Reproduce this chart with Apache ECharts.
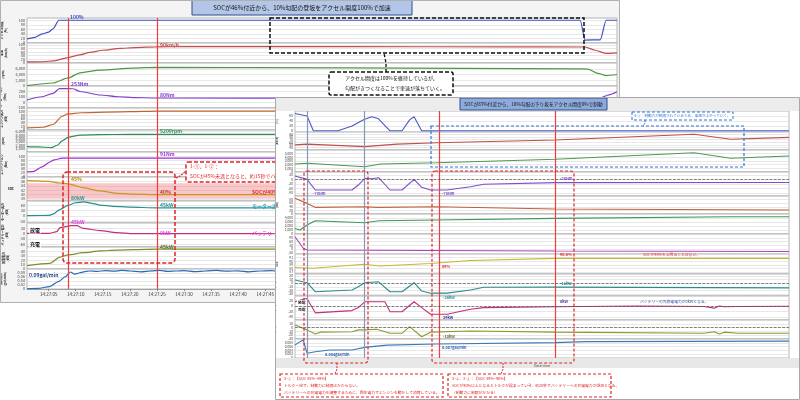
<!DOCTYPE html>
<html><head><meta charset="utf-8">
<script src="https://cdn.jsdelivr.net/npm/echarts@6/dist/echarts.min.js"></script>
<style>
html,body{margin:0;padding:0;background:#fff;}
body{width:800px;height:400px;position:relative;overflow:hidden;}
#chartA{position:absolute;left:0;top:0;width:620px;height:303px;background:#f4f4f4;}
#chartB{position:absolute;left:275px;top:97px;width:525px;height:303px;background:#fff;}
</style></head><body>
<div id="chartA"></div><div id="chartB"></div>
<script>
// ===== Panel A data (seconds after 14:27:00) =====
const A_X_LABELS = [5,10,15,20,25,30,35,40,45,50,55,60,65,70,75,80,85,90,95,100,105];
const A_VLINES = [8.6, 25];
const A_ACCEL = [[1,18],[2.5,25],[3.8,40],[5,48],[5.8,62],[6.9,100],[103.2,100],[104.1,13],[106.9,14],[108,100],[110,100]];
const A_SPEED = [[1,6],[4,7],[6,12],[8.6,30],[10.8,45],[12.6,58],[15,70],[18.2,80],[21,85],[24.8,89],[30,90],[60,90],[90,89],[104.1,88],[106,70],[108,53],[110,56]];
const A_MREV = [[1,100],[5.8,1050],[8.6,2800],[10.8,4600],[14.5,5550],[20.6,6250],[24.8,6500],[60,6300],[103,5950],[104.6,5900],[106.5,4400],[108,3600],[110,4000]];
const A_MTQ = [[1,45],[3.8,105],[5.8,167],[7,253],[9.5,250],[10.8,200],[14.5,136],[18,105],[20.6,90],[24.8,82],[60,80],[104,80],[107,85],[108.5,140],[110,196]];
const A_EOUT = [[1,12],[4,15],[5.8,30],[7.5,75],[8.6,88],[11,94],[20,100],[25,103],[60,104],[110,104]];
const A_EREV = [[1,1600],[3,1500],[5.5,1300],[6.6,2000],[7.5,3300],[8.6,4350],[10.8,5000],[14,5150],[20,5200],[110,5200]];
const A_ETQ = [[1,25],[2.1,26],[3.8,49],[5.3,73],[6,82],[7.5,91],[110,91]];
const A_SOC = [[1,46.5],[5,46.2],[7,45.4],[8.6,45],[11.4,43.2],[14.5,41.7],[17.7,40.6],[20.6,40.2],[25,40],[110,40]];
const A_SOC_BAND = [38, 45.3];
const A_MOUT = [[1,2],[5,3],[5.8,10],[7,35],[8.6,60],[10,75],[11.5,80],[13,72],[14.5,62],[17,55],[20,50],[25,46],[110,45]];
const A_BATT = [[1,2],[5.2,2],[6.5,11],[7.1,34],[9.3,45],[10.2,45],[11.4,30],[14.5,17],[17.6,6],[20.6,0],[110,0]];
const A_GEN = [[1,7.5],[5.2,13],[7.1,27],[8.6,32],[11.4,37],[14.5,41],[17.6,43],[20.6,44],[25,45],[110,45]];
const A_FUEL = [[1,0.001],[3,0.003],[5.2,0.012],[6.8,0.037],[8.1,0.062],[9,0.085],[9.8,0.074],[10.6,0.08],[11.5,0.086],[12.5,0.09],[14,0.088],[15.5,0.092],[17,0.089],[18.5,0.093],[20,0.09],[22,0.086],[24,0.091],[25.5,0.093],[27,0.088],[28.5,0.09],[30,0.092],[32,0.087],[34,0.09],[36,0.093],[38,0.089],[40,0.091],[42,0.086],[44,0.09],[46,0.092],[48,0.088],[55,0.09],[65,0.089],[75,0.091],[85,0.09],[95,0.088],[105,0.09],[110,0.09]];

// ===== Panel B data (seconds after 14:03:00) =====
const B_X_LABELS = [45,50,55,60,65,70,75,80,85,90,95,100,105,110,115,120];
const B_VLINES_GRAY = [44.9, 53.9];
const B_VLINES_RED = [65.8, 84.1];
const B_ACCEL = [[43,70],[44.9,60],[45.9,0],[49.8,0],[52,19],[53.9,46],[55.1,57],[56.1,50],[58,0],[59.9,0],[61.1,44],[61.8,57],[63,0],[121,0]];
const B_SPEED = [[43,50],[44.9,53],[54,43],[59.1,53],[65.4,58],[84.1,69],[106,91],[111.8,72],[121,79]];
const B_MREV = [[43,2180],[44.9,2370],[54,1450],[56.5,2180],[65.4,2540],[84.1,3460],[106,5260],[111.8,3740],[121,4360]];
const B_MTQ = [[43,23],[44.9,1],[46.2,-70],[52,-70],[53,-37],[54,8],[55.1,5],[56.2,12],[58,-70],[59.9,-70],[61.8,1],[63,-52],[64.4,-70],[67,-70],[70.7,-48],[72.8,-32],[84.1,-21],[121,-20]];
const B_EOUT = [[43,87],[44.9,59],[46.2,37],[54,40],[56,37],[65.4,40],[84.1,28],[121,22]];
const B_EREV = [[43,1400],[43.8,1000],[44.9,2250],[46.2,3300],[54,2800],[56.2,3300],[65.4,3500],[84.1,3900],[111.8,4300],[121,4300]];
const B_ETQ = [[43,98],[44.3,6],[44.9,-8],[84,-16],[121,-20]];
const B_SOC = [[43,88.3],[45.8,88.1],[53.9,89.2],[56.4,88.7],[64.4,89.4],[70.7,90.2],[84.1,90.8],[121,90.8]];
const B_MOUT = [[43,9],[44.9,1.5],[46.2,-24],[52,-19],[53,-10],[54,1.5],[56.2,4],[58,-24],[59.9,-24],[61.8,1.5],[63,-22],[64.4,-28],[67,-28],[70.7,-19],[72.8,-11.4],[84.1,-11],[121,-13]];
const B_BATT = [[43,16],[44.3,25],[44.9,28],[46.2,-24],[52,-16],[53,-5],[54,16],[57.2,16],[58,-20],[59.9,-20],[61.8,16],[63,-5],[64.4,-29],[67,-29],[70.7,-11],[72.8,-5],[84.1,-2],[97,0.5],[107.6,-1],[109.2,-7],[110,1],[110.8,-2],[112.9,-1],[121,0]];
const B_GEN = [[43,7],[44.9,-6],[46.2,-17],[47,-12],[52,-11],[53,-6],[54,-6],[55.9,-4.5],[58,-15],[59.9,-15],[61.1,2.4],[63,-24],[64.4,-12],[70.7,-9],[84.1,-12],[107.6,-15],[109.2,-11],[110,-17],[110.8,-12],[112.9,-15],[121,-15]];
const B_FUEL = [[43,0.0068],[43.8,0.0086],[44.3,0.0095],[44.9,0.0025],[46.2,0.0033],[48.5,0.0042],[52,0.0042],[54,0.0056],[57.5,0.0068],[65.4,0.0074],[84.1,0.0081],[89,0.0086],[121,0.0089]];

const FONT = '"Noto Sans CJK JP", "Noto Sans", sans-serif';
function pad(n){return (n<10?'0':'')+n;}
function timeFmt(baseMin){return function(v){const tot=baseMin*60+Math.round(v);return '14:'+pad(Math.floor(tot/60))+':'+pad(tot%60);};}

function buildPanel(cfg){
  const grid=[],xAxis=[],yAxis=[],series=[];
  cfg.rows.forEach(function(r,i){
    const last = i===cfg.rows.length-1;
    grid.push({left:cfg.left,width:cfg.width,top:r.top,height:r.h,show:true,backgroundColor:'#fff',borderColor:'#9a9a9a',borderWidth:0.7,containLabel:false,outerBoundsMode:'none'});
    xAxis.push({gridIndex:i,type:'value',min:cfg.xMin,max:cfg.xMax,splitLine:{show:false},
      axisTick:{show:last,length:2,customValues:cfg.xLabels,lineStyle:{color:'#888'}},
      axisLine:{show:last,lineStyle:{color:'#888',width:0.7}},
      axisLabel:{show:last,customValues:cfg.xLabels,formatter:cfg.fmt,fontSize:cfg.xFont,color:'#333',margin:3,fontFamily:FONT}});
    yAxis.push({gridIndex:i,type:'value',min:r.min,max:r.max,splitNumber:r.split||5,name:r.name,nameLocation:'middle',
      nameRotate:(r.rot===undefined?90:r.rot),nameGap:cfg.nameGap,
      nameTextStyle:{fontSize:cfg.nameFont,fontWeight:'bold',color:'#222',lineHeight:cfg.nameFont+1,fontFamily:FONT},
      axisLine:{show:false},axisTick:{show:false},
      axisLabel:{fontSize:cfg.tickFont,color:'#444',margin:2,showMaxLabel:false,fontFamily:FONT},
      splitLine:{lineStyle:{color:'#d8d8d8',width:0.6}}});
    const ml = cfg.vlines.map(function(v){return {xAxis:v[0],lineStyle:{color:v[1],width:1.2,type:'solid',opacity:1}};});
    if (r.zero) ml.push({yAxis:0,lineStyle:{color:'#555',width:0.7,type:'dashed'}});
    const s={type:'line',xAxisIndex:i,yAxisIndex:i,data:r.data,showSymbol:false,symbol:'none',
      lineStyle:{color:r.color,width:cfg.lw},itemStyle:{color:r.color},smooth:cfg.smooth,smoothMonotone:'x',z:3,
      markLine:{silent:true,symbol:['none','none'],label:{show:false},data:ml,animation:false}};
    if (r.band) s.markArea={silent:true,itemStyle:{color:'rgba(240,130,135,0.45)'},data:[[{yAxis:r.band[0]},{yAxis:r.band[1]}]]};
    series.push(s);
  });
  return {grid:grid,xAxis:xAxis,yAxis:yAxis,series:series};
}

function txt(x,y,text,color,size,o){o=o||{};return {type:'text',x:x,y:y,z:50,style:{text:text,fill:color,
  font:(o.bold?'bold ':'')+size+'px '+FONT,textAlign:o.align||'left',align:o.align||'left',textVerticalAlign:'middle',verticalAlign:'middle',
  lineHeight:o.lh||size+2,backgroundColor:o.bg,padding:o.bg?[0,1]:0}};}
function rect(x,y,w,h,stroke,fill,o){o=o||{};return {type:'rect',z:o.z||40,shape:{x:x,y:y,width:w,height:h,r:o.r||0},
  style:{fill:fill||'none',stroke:stroke,lineWidth:o.lw||1,lineDash:o.dash||null}};}
function pline(pts,stroke,o){o=o||{};return {type:'polyline',z:41,shape:{points:pts},style:{fill:'none',stroke:stroke,lineWidth:o.lw||1,lineDash:o.dash||null}};}

// ===== Chart A =====
const RED='#f03c3c';
const aRows=[
 {name:'アクセル開度\n(%)',top:18,h:25,min:0,max:110,color:'#3f4fc0',data:A_ACCEL},
 {name:'車速\n(km/h)',top:43,h:20,min:0,max:110,color:'#c0504d',data:A_SPEED},
 {name:'モーター回転数\n(rpm)',top:63,h:23,min:0,max:8000,color:'#4c9a45',data:A_MREV},
 {name:'モータートルク\n(Nm)',top:86,h:22,min:-100,max:300,color:'#8040c8',data:A_MTQ},
 {name:'エンジン出力\n(kW)',top:108,h:22,min:0,max:120,color:'#c0662f',data:A_EOUT},
 {name:'エンジン回転数\n(rpm)',top:130,h:22,min:0,max:6500,color:'#2f8f5a',data:A_EREV},
 {name:'エンジントルク\n(Nm)',top:152,h:25,min:0,max:120,color:'#9b30d0',data:A_ETQ},
 {name:'SOC',rot:0,top:177,h:24,min:37,max:48.2,color:'#c8961e',data:A_SOC,band:A_SOC_BAND},
 {name:'モーター出力\n(kW)',top:201,h:22,min:-40,max:85,color:'#2a8f8f',data:A_MOUT},
 {name:'バッテリー電力\n(kW)',top:223,h:24,min:-75,max:60,color:'#c4307c',data:A_BATT},
 {name:'発電電力\n(kW)',top:247,h:22,min:0,max:50,color:'#7d8f2a',data:A_GEN},
 {name:'燃料消費\n(gal/min)',top:269,h:20,min:0,max:0.1,color:'#2a6cb4',data:A_FUEL}
];
const pa=buildPanel({rows:aRows,left:27,width:590,xMin:1,xMax:110,xLabels:A_X_LABELS,fmt:timeFmt(27),
  vlines:A_VLINES.map(function(v){return [v,RED];}),nameGap:13,nameFont:3,tickFont:3.8,xFont:4.5,lw:1.2,smooth:0.25});
const chartA=echarts.init(document.getElementById('chartA'),null,{renderer:'canvas'});
pa.animation=false;
pa.graphic={elements:[
 rect(0.5,0.5,619,302,'#b0b0b0','none',{z:60}),
 rect(192,0.5,220,14.5,'#2f4f8f','#b4c6e7',{lw:1}),
 txt(302,8,'SOCが46%付近から、10%勾配の登坂をアクセル開度100%で加速','#111',6,{align:'center'}),
 rect(270,18,314,35,'#111','none',{dash:[4,2],lw:1.5}),
 pline([[386,72],[386,63],[384,53]],'#111',{dash:[3,2],lw:1.3}),
 rect(329,72,124,23,'#111','#fff',{dash:[4,2],lw:1.5,r:2}),
 txt(345,78.5,'アクセル開度は100%を維持しているが、','#111',5),
 txt(345,88.5,'勾配がきつくなることで車速が落ちていく。','#111',5),
 rect(63,172,112,91,'#e02424','none',{dash:[4,2],lw:1.5,r:4}),
 pline([[176,178],[180,176],[186,171]],'#e02424',{dash:[2,1],lw:1.2}),
 rect(186,162,130,20,'#e02424','#fff',{dash:[4,2],lw:1.5,r:2}),
 txt(190,166.5,'1-①、1-②：','#e02424',5),
 txt(190,176.5,'SOCが45%未満となると、約15秒でバッテリーの放電電力が0kWとなる。','#e02424',5),
 txt(70,17,'100%','#3f4fc0',5,{bold:true}),
 txt(160,45,'90km/h','#c0504d',5,{bold:true}),
 txt(71,84,'253Nm','#8040c8',5,{bold:true}),
 txt(160,95,'80Nm','#8040c8',5,{bold:true}),
 txt(160,131,'5200rpm','#2f8f5a',5,{bold:true}),
 txt(160,154,'91Nm','#9b30d0',5,{bold:true}),
 txt(71,179.5,'45%','#b8860b',5,{bold:true}),
 txt(160,192,'40%','#c0392b',5,{bold:true}),
 txt(252,192,'SOCが40%で推移','#e03030',5,{bold:true}),
 txt(71,198.5,'80kW','#2a8f8f',5,{bold:true}),
 txt(160,205,'45kW','#2a8f8f',5,{bold:true}),
 txt(252,206,'モーター出力','#2aa0c0',5,{bold:true}),
 txt(71,222,'45kW','#e040e0',5,{bold:true}),
 txt(160,233,'0kW','#e040e0',5,{bold:true}),
 txt(252,233,'バッテリー電力','#e040e0',5,{bold:true}),
 txt(160,247,'45kW','#556b2f',5,{bold:true}),
 txt(29,275,'0.09gal/min','#1f3f8f',5,{bold:true}),
 txt(29,230,'放電','#111',5,{bold:true,bg:'#fff'}),
 txt(29,244,'充電','#111',5,{bold:true,bg:'#fff'})
]};
chartA.setOption(pa);

// ===== Chart B =====
const GRAY='#8797b8';
const bRows=[
 {name:'アクセル開度\n(%)',top:14,h:21,min:-5,max:80,color:'#4a5ac8',data:B_ACCEL},
 {name:'車速\n(km/h)',top:35,h:18,min:30,max:100,color:'#c0504d',data:B_SPEED},
 {name:'モーター回転数',top:53,h:22,min:0,max:6000,color:'#4f9a4f',data:B_MREV},
 {name:'モータートルク',top:75,h:24,min:-110,max:50,color:'#7b4fc8',data:B_MTQ,zero:true},
 {name:'エンジン出力\n(kW)',top:99,h:18,min:0,max:100,color:'#c0603a',data:B_EOUT},
 {name:'エンジン回転数',top:117,h:20,min:0,max:5000,color:'#3a9a5a',data:B_EREV},
 {name:'エンジントルク',top:137,h:20,min:-40,max:120,color:'#b040c0',data:B_ETQ},
 {name:'SOC',top:157,h:20,min:86.5,max:92,color:'#c8b830',data:B_SOC},
 {name:'モーター出力\n(kW)',top:177,h:22,min:-36,max:26,color:'#2a8c8c',data:B_MOUT,zero:true},
 {name:'バッテリー電力\n(kW)',top:199,h:24,min:-50,max:37,color:'#c0307a',data:B_BATT,zero:true},
 {name:'発電電力\n(kW)',top:223,h:19,min:-30,max:20,color:'#8c9a2a',data:B_GEN,zero:true},
 {name:'燃料消費\n(gal/min)',top:242,h:19,min:0,max:0.01,color:'#3a7ab8',data:B_FUEL}
];
const pb=buildPanel({rows:bRows,left:20,width:494,xMin:43,xMax:121,xLabels:B_X_LABELS,fmt:timeFmt(3),
  vlines:B_VLINES_GRAY.map(function(v){return [v,GRAY];}).concat(B_VLINES_RED.map(function(v){return [v,RED];})),
  nameGap:10,nameFont:2.6,tickFont:3.3,xFont:3.8,lw:1.1,smooth:false});
const chartB=echarts.init(document.getElementById('chartB'),null,{renderer:'canvas'});
pb.animation=false;
const BR='#e02424', BB='#2e75d6';
pb.graphic={elements:[
 rect(0,0,525,14,'none','#ececec',{z:1}),
 rect(0,261,525,10,'none','#e8e8e8',{z:1}),
 rect(0.5,0.5,524,302,'#a8a8a8','none',{z:60}),
 rect(185,1,147,12,'#2f4f8f','#8eaadb',{lw:1}),
 txt(258.5,7,'SOCが87%付近から、10%勾配の下り坂をアクセル開度0%で制動','#111',4.7,{align:'center'}),
 rect(156,29,313,41,BB,'none',{dash:[3,2],lw:1.2}),
 pline([[370,23],[370,26],[368,29]],BB,{dash:[2,1],lw:1}),
 rect(357,15,101,8,BB,'#fff',{dash:[3,2],lw:1}),
 txt(359,19,'4-①：制動力が制限されているため、車速が上がっていく。',BB,3.6),
 rect(29,74,64,192,BR,'none',{dash:[3,2],lw:1.2,r:3}),
 rect(157,74,142,192,BR,'none',{dash:[3,2],lw:1.2,r:3}),
 pline([[62,266],[62,272],[60,277]],BR,{dash:[2,1],lw:1}),
 pline([[228,266],[228,272],[226,277]],BR,{dash:[2,1],lw:1}),
 rect(5,277,163,23,BR,'#fff',{dash:[3,2],lw:1.2}),
 txt(9,281.5,'3-①：【SOC 85%~89%】',BR,3.8),
 txt(9,288.5,'トルク一定で、制動力に制限はかからない。',BR,3.8),
 txt(9,295.5,'バッテリーへの充電電力を調整するために、回生電力でエンジンを動かして消費している。',BR,3.8),
 rect(173,277,163,23,BR,'#fff',{dash:[3,2],lw:1.2}),
 txt(177,281.5,'3-②、3-③：【SOC 89%~90%】',BR,3.8),
 txt(177,288.5,'SOCが90%以上となるとトルクが弱まっていき、約20秒でバッテリーへの充電電力が0kWとなる。',BR,3.8),
 txt(177,295.5,'（制動力に制限がかかる）',BR,3.8),
 txt(38,97,'-70Nm','#7b4fc8',3.8,{bold:true}),
 txt(167,97,'-70Nm','#7b4fc8',3.8,{bold:true}),
 txt(285,82,'-20Nm','#7b4fc8',3.8,{bold:true}),
 txt(285,158,'90.8%','#e03030',3.8,{bold:true}),
 txt(167,170,'89%','#e03030',3.8,{bold:true}),
 txt(368,158,'SOCが90%を上回ることはない。','#e03030',3.8),
 txt(285,187,'-11kW','#2a8c8c',3.8,{bold:true}),
 txt(168,201,'-28kW','#2a8c8c',3.8,{bold:true}),
 txt(285,205,'0kW','#4a3aa0',3.8,{bold:true}),
 txt(168,221,'29kW','#2a3a90',3.8,{bold:true}),
 txt(365,205,'バッテリーの充放電電力が0kWとなる。','#3050a0',3.8),
 txt(168,240,'-10kW','#556b2f',3.8,{bold:true}),
 txt(50,258,'0.004gal/min','#2a5ab0',3.8,{bold:true}),
 txt(167,251,'0.007gal/min','#2a5ab0',3.8,{bold:true}),
 txt(22,206,'放電','#111',3.8,{bold:true,bg:'#fff'}),
 txt(22,213,'充電','#111',3.8,{bold:true,bg:'#fff'}),
 txt(267,269,'Date time','#555',3.6,{align:'center'})
]};
chartB.setOption(pb);
</script></body></html>
